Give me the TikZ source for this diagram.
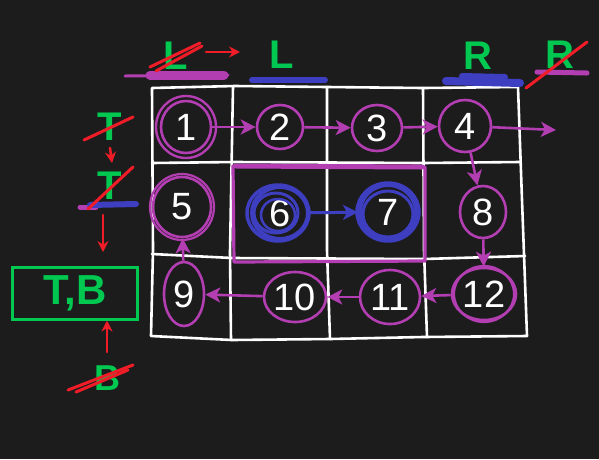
\documentclass[tikz,border=0pt]{standalone}
\usepackage{fontspec}
\setmainfont{Liberation Sans}
\usetikzlibrary{arrows.meta,shapes.geometric}
\definecolor{bg}{RGB}{28,28,28}
\definecolor{mag}{RGB}{178,62,178}
\definecolor{blu}{RGB}{62,62,192}
\definecolor{grn}{RGB}{0,200,80}
\definecolor{rd}{RGB}{240,28,40}
\tikzset{
  gridline/.style={white, line width=2.6pt, line cap=round, line join=round},
  cell/.style={ellipse, draw=mag, line width=2.6pt, text=white, inner sep=0pt,
               font=\fontsize{38}{38}\selectfont},
  bcell/.style={cell, draw=blu, line width=4pt},
  marr/.style={mag, line width=2.6pt, -{Stealth[length=15pt,width=15pt,inset=4pt]}},
  barr/.style={blu, line width=3pt, -{Stealth[length=15pt,width=15pt,inset=4pt]}},
  rarr/.style={rd, line width=2.6pt, line cap=round, -{Stealth[length=11pt,width=11pt]}},
  glab/.style={text=grn, font=\bfseries\fontsize{40}{40}\selectfont, inner sep=0pt},
  strike/.style={rd, line width=3pt, line cap=round},
  hl/.style={line cap=round, line width=#1},
}
\begin{document}
\begin{tikzpicture}[x=1pt,y=-1pt]
\fill[bg] (0,0) rectangle (599,459);
\useasboundingbox (0,0) rectangle (599,459);

% grid
\draw[gridline] (152,88) -- (235,86) -- (327,87) -- (423,88) -- (518,87) -- (522,200) -- (527,336)
  -- (423,337) -- (330,339) -- (232,340) -- (151,336) -- (153,250) -- cycle;
\draw[gridline] (233,87) -- (230,252) -- (231,340);
\draw[gridline] (327,87) -- (327,250) -- (330,339);
\draw[gridline] (423,88) -- (424,250) -- (427,337);
\draw[gridline] (152,163) -- (235,162) -- (423,163) -- (520,162);
\draw[gridline] (152,254) -- (232,258) -- (424,259) -- (525,256);

% highlight rectangle for inner ring
\draw[mag, line width=3.2pt, line join=round] (233,166) -- (425,167) -- (425,261) -- (234,262) -- cycle;
\draw[mag, line width=5pt, line cap=round] (236,166) -- (422,167);

% cells
\node[cell, minimum width=50, minimum height=52] (n1) at (186,127) {1};
\draw[mag, line width=2.4pt] (n1.center) ellipse (30 and 31);
\node[cell, minimum width=46, minimum height=44] (n2) at (280,127) {2};
\node[cell, minimum width=50, minimum height=46] (n3) at (377,128) {3};
\node[cell, minimum width=52, minimum height=52] (n4) at (465,126) {4};
\node[cell, minimum width=58, minimum height=60] (n5) at (182,207) {5};
\draw[mag, line width=2.2pt] (n5.center) ellipse (32 and 33);
\node[bcell, minimum width=56, minimum height=52] (n6) at (280,213) {6};
\draw[blu, line width=3.5pt] ([xshift=-2pt]n6.center) ellipse (31 and 28);
\draw[blu, line width=3pt] ([xshift=-4pt]n6.center) ellipse (22 and 20);
\draw[blu, line width=2.5pt] ([xshift=-2pt,yshift=-2pt]n6.center) ellipse (17 and 16);
\node[bcell, minimum width=56, minimum height=54] (n7) at (388,212) {7};
\draw[blu, line width=3.5pt] (n7.center) ellipse (31 and 29);
\draw[blu, line width=3pt] ([yshift=-2pt]n7.center) ellipse (25 and 23);
\node[cell, minimum width=46, minimum height=52] (n8) at (483,212) {8};
\node[cell, minimum width=40, minimum height=64] (n9) at (184,294) {9};
\node[cell, minimum width=62, minimum height=50] (n10) at (295,297) {10};
\node[cell, minimum width=60, minimum height=54] (n11) at (390,297) {11};
\node[cell, minimum width=64, minimum height=52] (n12) at (484,294) {12};
\draw[mag, line width=2.2pt] (n12.center) ellipse (30 and 28);

% spiral connectors
\coordinate (out4) at (556,130);
\draw[marr] (n1) -- (n2);
\draw[marr] (n2) -- (n3);
\draw[marr] (n3) -- (n4);
\draw[marr] (n4) -- (out4);
\draw[marr] (n4) -- (n8);
\draw[marr] (n8) -- (n12);
\draw[marr] (n12) -- (n11);
\draw[marr] (n11) -- (n10);
\draw[marr] (n10) -- (n9);
\draw[marr] (n9) -- (n5);
\draw[barr] (n6) -- (n7);

% top labels
\draw[mag, hl=3pt] (125,76) -- (228,75);
\draw[mag, hl=9pt] (150,75) -- (224,75);
\node[glab] (L1) at (176,56) {L};
\draw[strike] (150,67) -- (200,43);
\draw[strike] (156,71) -- (202,46);
\coordinate (La) at (206,52);
\coordinate (Lb) at (240,52);
\draw[rarr] (La) -- (Lb);
\node[glab] (L2) at (282,55) {L};
\draw[blu, hl=6pt] (252,80) -- (325,80);

\node[glab] (R1) at (478,56) {R};
\draw[blu, hl=8pt] (446,81) -- (520,83);
\draw[blu, hl=6pt] (462,76) -- (505,77);
\node[glab] (R2) at (560,55) {R};
\draw[mag, hl=5pt] (537,72) -- (587,73);
\draw[strike] (526,88) -- (587,42);

% left labels
\node[glab] (T1) at (110,127) {T};
\draw[strike] (84,140) -- (133,117);
\coordinate (ta) at (110,148);
\coordinate (tb) at (112,163);
\draw[rarr] (ta) -- (tb);
\node[glab] (T2) at (110,186) {T};
\draw[mag, hl=5pt] (80,207) -- (96,207);
\draw[blu, hl=6pt] (90,205) -- (136,204);
\draw[strike] (88,209) -- (133,167);
\node[glab, draw=grn, line width=3pt, minimum width=125, minimum height=52,
      font=\bfseries\fontsize{42}{42}\selectfont] (box) at (75,293) {T,B};
\coordinate (tc) at (103,215);
\draw[rarr] (tc) -- (103,252);
\node[glab, font=\bfseries\fontsize{36}{36}\selectfont] (B1) at (107,378) {B};
\draw[strike] (68,390) -- (133,365);
\draw[strike] (76,392) -- (128,370);
\coordinate (bu) at (107,352);
\draw[rarr] (bu) -- (box.south -| bu);
\end{tikzpicture}
\end{document}
